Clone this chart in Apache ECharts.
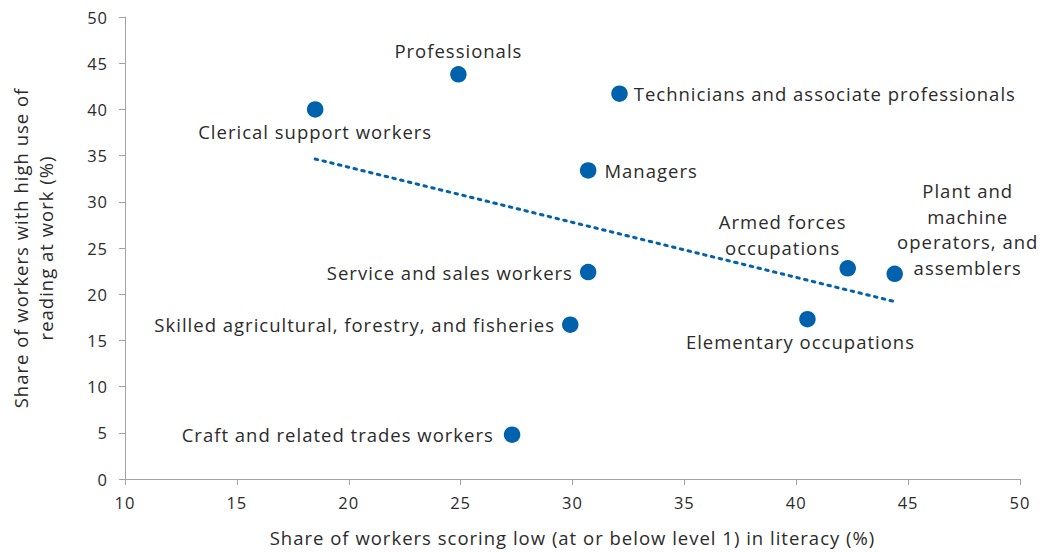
<!DOCTYPE html>
<html>
<head>
<meta charset="utf-8">
<title>Literacy and reading at work by occupation</title>
<script src="https://cdn.jsdelivr.net/npm/echarts@6/dist/echarts.min.js"></script>
<style>
  html, body { margin: 0; padding: 0; background: #fff; }
  #chart { width: 1046px; height: 552px; }
  /* slightly open tracking for all chart text */
  #chart text { letter-spacing: 1px; }
</style>
</head>
<body>
<div id="chart"></div>
<script>
// Occupation groups
const occupations = [
  'Clerical support workers',
  'Professionals',
  'Technicians and associate professionals',
  'Managers',
  'Service and sales workers',
  'Skilled agricultural, forestry, and fisheries',
  'Craft and related trades workers',
  'Elementary occupations',
  'Armed forces\noccupations',
  'Plant and\nmachine\noperators, and\nassemblers'
];
// Share of workers scoring low (at or below level 1) in literacy (%)
const lowLiteracy = [18.5, 24.9, 32.1, 30.7, 30.7, 29.9, 27.3, 40.5, 42.3, 44.4];
// Share of workers with high use of reading at work (%)
const highReading = [40.0, 43.8, 41.7, 33.4, 22.4, 16.7, 4.8, 17.3, 22.8, 22.2];

const xTicks = { min: 10, max: 50, step: 5 };
const yTicks = { min: 0, max: 50, step: 5 };

const BLUE = '#0061ac';
const TEXT = '#2b2b2b';
const AXIS = '#a3a3a3';
const FONT = '"Open Sans", "Noto Sans", sans-serif';

// Where each label sits relative to its dot (shift in pixels)
const labelPlacement = {
  'Clerical support workers': { position: 'bottom', distance: 14 },
  'Professionals': { position: 'top', distance: 16 },
  'Technicians and associate professionals': { position: 'right', distance: 6 },
  'Managers': { position: 'right', distance: 8 },
  'Service and sales workers': { position: 'left', distance: 7 },
  'Skilled agricultural, forestry, and fisheries': { position: 'left', distance: 7 },
  'Craft and related trades workers': { position: 'left', distance: 10 },
  'Elementary occupations': { position: 'bottom', distance: 14, shift: [-7, 0] },
  'Armed forces\noccupations': { position: 'inside', shift: [-65, -34] },
  'Plant and\nmachine\noperators, and\nassemblers': { position: 'inside', shift: [73, -45] }
};

// Ordinary least-squares fit across the occupation points
function linearFit(xs, ys) {
  const n = xs.length;
  const mx = xs.reduce((a, b) => a + b, 0) / n;
  const my = ys.reduce((a, b) => a + b, 0) / n;
  let sxy = 0, sxx = 0;
  for (let i = 0; i < n; i++) {
    sxy += (xs[i] - mx) * (ys[i] - my);
    sxx += (xs[i] - mx) * (xs[i] - mx);
  }
  const slope = sxy / sxx;
  return x => my + slope * (x - mx);
}
const fit = linearFit(lowLiteracy, highReading);
const xLo = Math.min(...lowLiteracy);
const xHi = Math.max(...lowLiteracy);

const points = occupations.map((name, i) => {
  const p = labelPlacement[name] || {};
  let align = 'center';
  if (p.position === 'left') align = 'right';
  if (p.position === 'right') align = 'left';
  return {
    name: name,
    value: [lowLiteracy[i], highReading[i]],
    label: {
      show: true,
      position: p.position,
      distance: p.distance || 0,
      align: align,
      verticalAlign: 'middle'
    }
  };
});

const chart = echarts.init(document.getElementById('chart'), null, { renderer: 'svg' });
chart.setOption({
  animation: false,
  backgroundColor: '#fff',
  textStyle: { fontFamily: FONT },
  grid: { left: 123, right: 26, top: 17, bottom: 72, containLabel: false },
  xAxis: {
    type: 'value',
    min: xTicks.min, max: xTicks.max, interval: xTicks.step,
    name: 'Share of workers scoring low (at or below level 1) in literacy (%)',
    nameLocation: 'middle',
    nameGap: 49,
    nameTextStyle: { fontSize: 18.5, color: TEXT, fontFamily: FONT },
    axisLine: { show: true, lineStyle: { color: AXIS, width: 1 } },
    axisTick: { show: true, length: 6, lineStyle: { color: AXIS } },
    axisLabel: { fontSize: 16.5, color: TEXT, margin: 15, fontFamily: FONT },
    splitLine: { show: false }
  },
  yAxis: {
    type: 'value',
    min: yTicks.min, max: yTicks.max, interval: yTicks.step,
    name: 'Share of workers with high use of\nreading at work (%)',
    nameLocation: 'middle',
    nameGap: 67,
    nameTextStyle: { fontSize: 18.5, color: TEXT, lineHeight: 25, fontFamily: FONT },
    axisLine: { show: true, lineStyle: { color: AXIS, width: 1 } },
    axisTick: { show: true, length: 6, lineStyle: { color: AXIS } },
    axisLabel: { fontSize: 16.5, color: TEXT, margin: 17, fontFamily: FONT },
    splitLine: { show: false }
  },
  series: [
    {
      type: 'line',
      data: [[xLo, fit(xLo)], [xHi, fit(xHi)]],
      showSymbol: false,
      symbol: 'none',
      silent: true,
      lineStyle: { color: BLUE, width: 3, type: [2.5, 5.5], cap: 'round' },
      z: 1
    },
    {
      type: 'scatter',
      data: points,
      symbolSize: 16.5,
      itemStyle: { color: BLUE, opacity: 1 },
      label: {
        formatter: p => p.name,
        fontSize: 18.5,
        color: TEXT,
        lineHeight: 25.5,
        fontFamily: FONT
      },
      labelLayout: params => {
        const p = labelPlacement[occupations[params.dataIndex]] || {};
        const s = p.shift || [0, 0];
        return { dx: s[0], dy: s[1], hideOverlap: false };
      },
      emphasis: { disabled: true },
      z: 2
    }
  ]
});
</script>
</body>
</html>
